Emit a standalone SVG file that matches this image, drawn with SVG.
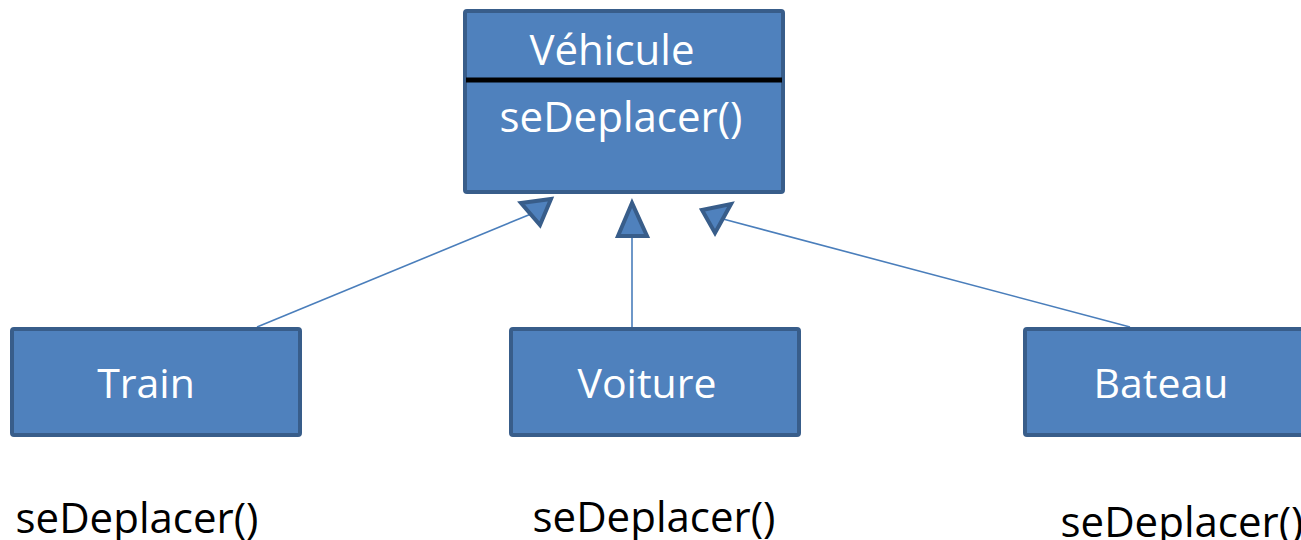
<svg xmlns="http://www.w3.org/2000/svg" width="1301" height="540" viewBox="0 0 1301 540">
  <style>
    .box { fill: #4F81BD; stroke: #385D8A; stroke-width: 4; }
    .head { fill: #4F81BD; stroke: #385D8A; stroke-width: 4; stroke-linejoin: miter; }
    .link { stroke: #4A7EBB; stroke-width: 1.6; fill: none; }
    .lbl { font-family: "Open Sans", "Noto Sans", sans-serif; font-size: 42px; text-anchor: middle; }
    .name { font-size: 41px; }
    .in { fill: #FFFFFF; }
    .out { fill: #000000; }
  </style>
  <rect width="1301" height="540" fill="#FFFFFF"/>

  <!-- inheritance links with triangle heads -->
  <g id="connectors">
    <line class="link" x1="257" y1="327" x2="531" y2="214"/>
    <polygon class="head" points="521,203 551,199 540,225"/>
    <line class="link" x1="632" y1="236" x2="632" y2="327"/>
    <polygon class="head" points="632,203 618,236 647,236"/>
    <line class="link" x1="1130" y1="327" x2="723" y2="219"/>
    <polygon class="head" points="702,210 731,204 715,233"/>
  </g>

  <g id="vehicule">
    <rect class="box" x="465" y="11" width="318" height="181" rx="2"/>
    <line x1="466" y1="80" x2="782" y2="80" stroke="#000000" stroke-width="5"/>
    <text class="lbl in" x="612" y="65">Véhicule</text>
    <text class="lbl in" x="621" y="132">seDeplacer()</text>
  </g>

  <g id="train">
    <rect class="box" x="12" y="329" width="288" height="106" rx="2"/>
    <text class="lbl name in" x="146" y="398">Train</text>
  </g>

  <g id="voiture">
    <rect class="box" x="511" y="329" width="288" height="106" rx="2"/>
    <text class="lbl name in" x="647" y="398">Voiture</text>
  </g>

  <g id="bateau">
    <rect class="box" x="1025" y="329" width="290" height="106" rx="2"/>
    <text class="lbl name in" x="1161" y="398">Bateau</text>
  </g>

  <g id="methods">
    <text class="lbl out" x="137" y="533">seDeplacer()</text>
    <text class="lbl out" x="654" y="532">seDeplacer()</text>
    <text class="lbl out" x="1182" y="537">seDeplacer()</text>
  </g>
</svg>
